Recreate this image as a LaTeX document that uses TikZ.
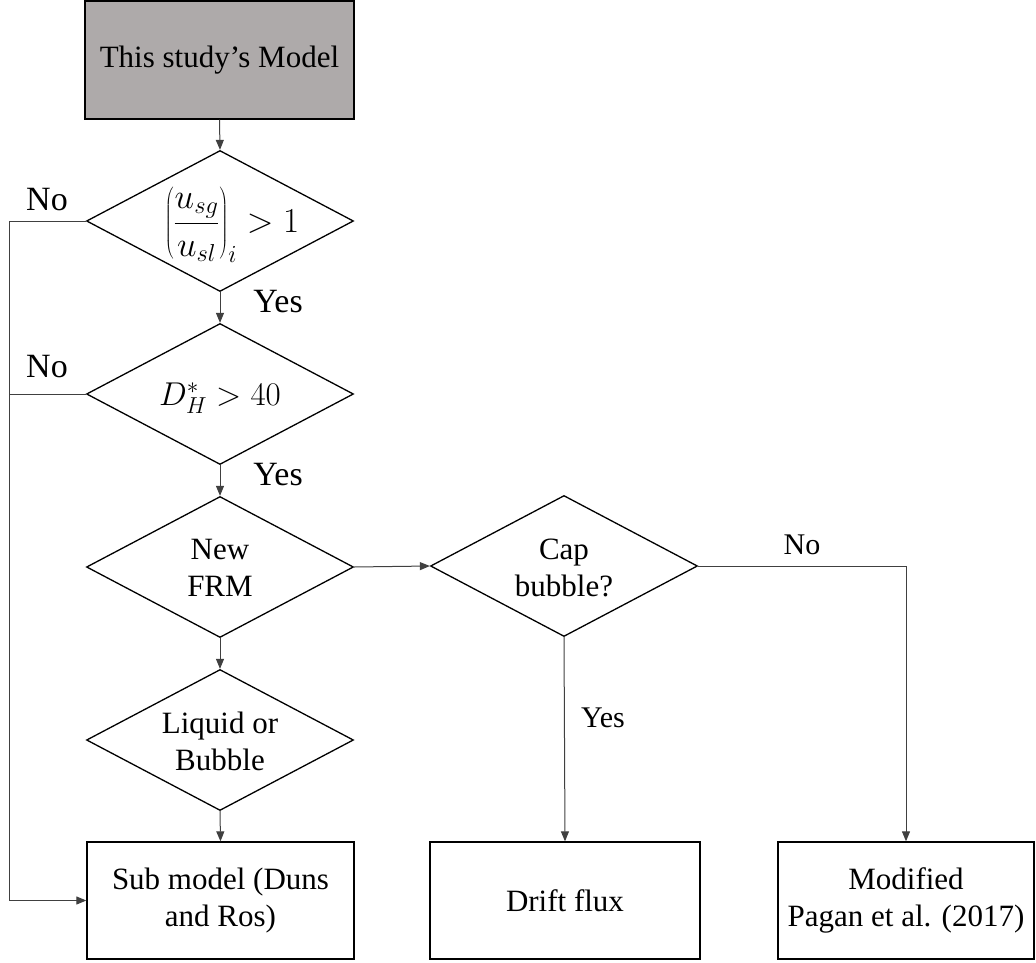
\documentclass[tikz,border=0pt]{standalone}
\usepackage{fix-cm}
\usepackage{fontspec}
\setmainfont{Liberation Serif}
\usetikzlibrary{shapes.geometric,arrows.meta}
\definecolor{boxgray}{RGB}{174,170,170}
\begin{document}
\begin{tikzpicture}[x=1pt,y=-1pt,
  procbox/.style={draw=black, line width=1.3pt, rectangle, inner sep=0pt, align=center, font=\fontsize{31}{37}\selectfont},
  decision/.style={draw=black, line width=1.3pt, diamond, inner sep=0pt, minimum width=267pt, minimum height=141pt},
  dtext/.style={align=center, inner sep=0pt, font=\fontsize{31}{37}\selectfont},
  conn/.style={draw=black!75, line width=1pt, -{Triangle[length=10pt,width=8pt]}},
  plain/.style={draw=black!75, line width=1pt},
  lab/.style={font=\fontsize{34}{40}\selectfont, inner sep=0pt},
  labs/.style={font=\fontsize{30}{36}\selectfont, inner sep=0pt}
]
\useasboundingbox (0,0) rectangle (1036,963);

\node[procbox, fill=boxgray, minimum width=269pt, minimum height=118pt] (start) at (219.5,60) {This study’s Model};

\node[decision] (d1) at (220,221) {};
\node[dtext, font=\fontsize{35}{40}\selectfont] (t1) at (232,225) {$\displaystyle\left(\frac{u_{sg}}{u_{sl}}\right)_{i} > 1$};

\node[decision] (d2) at (220,394) {};
\node[dtext, font=\fontsize{33}{38}\selectfont] (t2) at (220,398) {$D_H^{*} > 40$};

\node[decision] (d3) at (220,567) {};
\node[dtext] (t3) at (220,568) {New\\FRM};

\node[decision] (d5) at (220,740) {};
\node[dtext] (t5) at (220,741) {Liquid or\\Bubble};

\node[decision] (d4) at (564,566) {};
\node[dtext] (t4) at (564,568) {Cap\\bubble?};

\node[procbox, minimum width=267pt, minimum height=117pt] (sub) at (220.5,900.5) {Sub model (Duns\\and Ros)};
\node[procbox, minimum width=270pt, minimum height=117pt] (drift) at (565,900.5) {Drift flux};
\node[procbox, minimum width=256pt, minimum height=117pt] (mod) at (906,900.5) {Modified\\Pagan et al. (2017)};

\draw[conn] (start.south) -- (d1.north);
\draw[conn] (d1.south) -- (d2.north);
\draw[conn] (d2.south) -- (d3.north);
\draw[conn] (d3.south) -- (d5.north);
\draw[conn] (d5.south) -- (sub.north);
\draw[conn] (d3.east) -- (d4.west);
\draw[conn] (d4.south) -- (drift.north);
\draw[conn] (d4.east) -| (mod.north);
\coordinate (lft1) at (9,221);
\coordinate (lft2) at (9,394);
\draw[conn] (d1.west) -- (lft1) |- (sub.west);
\draw[plain] (d2.west) -- (lft2);

\node[lab] (no1) at (47,200) {No};
\node[lab] (no2) at (47,367) {No};
\node[lab] (yes1) at (278,302) {Yes};
\node[lab] (yes2) at (278,475) {Yes};
\node[labs] (no3) at (802,545) {No};
\node[labs] (yes3) at (603,718) {Yes};
\end{tikzpicture}
\end{document}
